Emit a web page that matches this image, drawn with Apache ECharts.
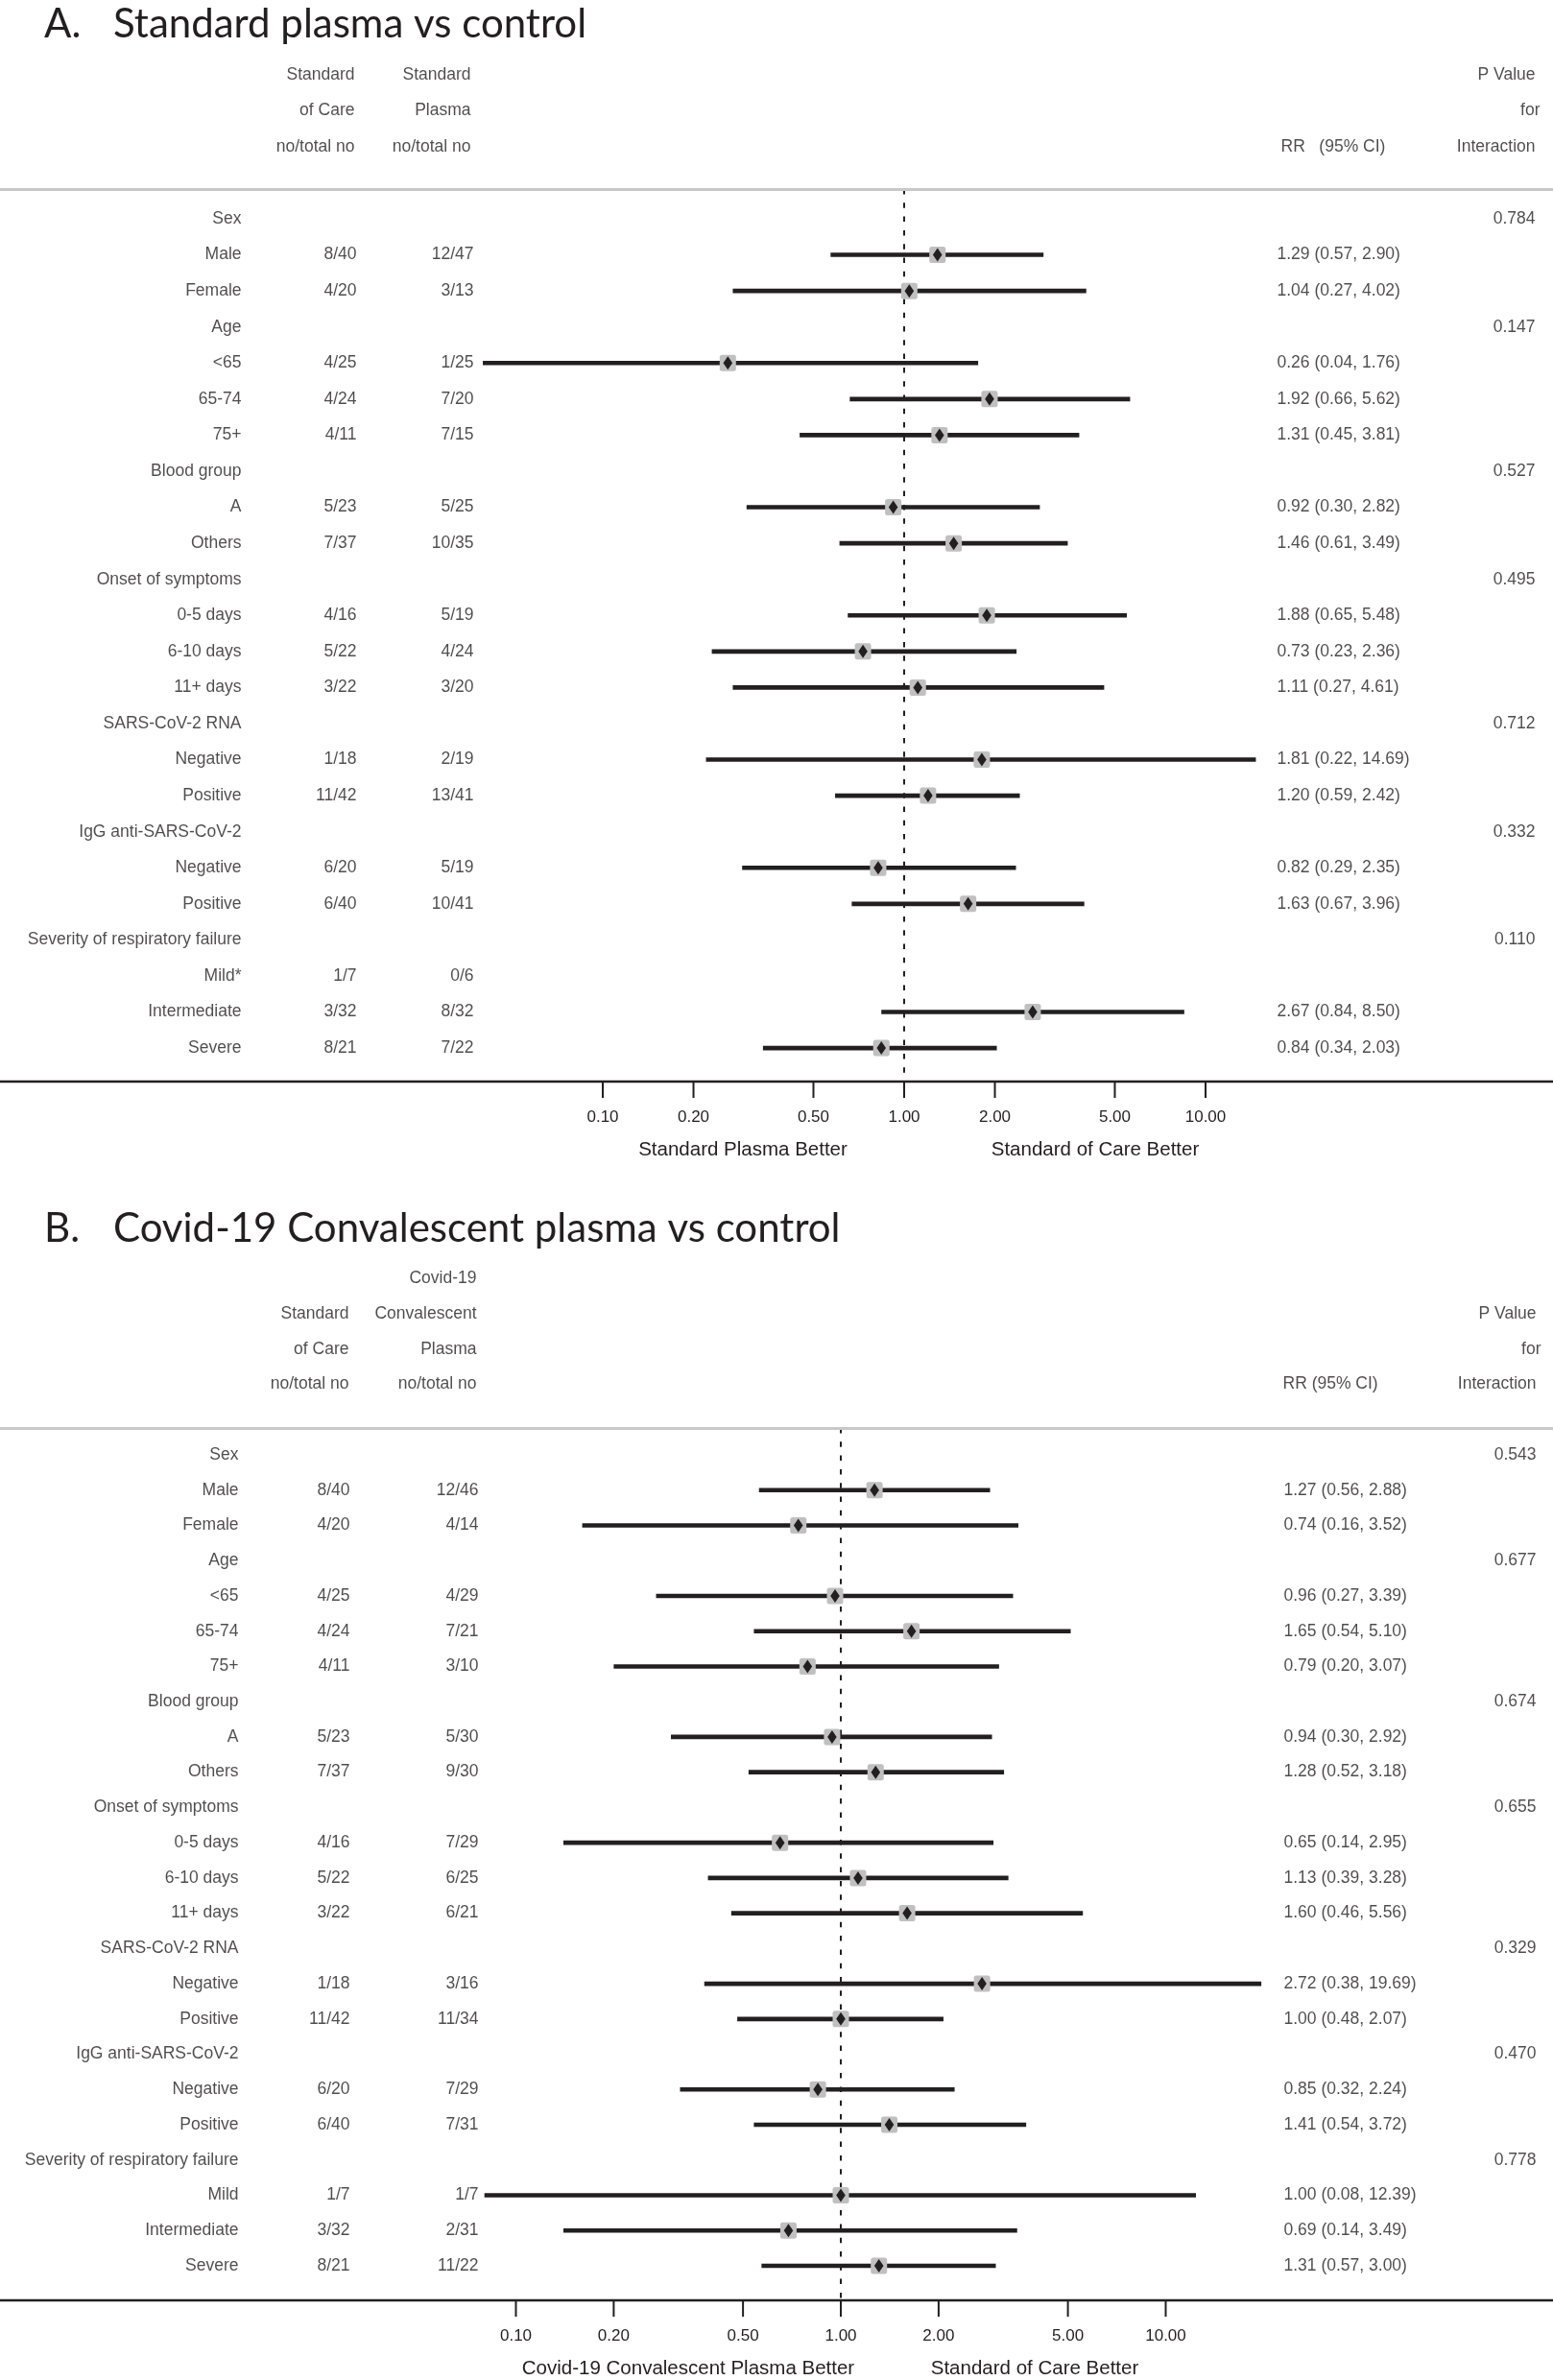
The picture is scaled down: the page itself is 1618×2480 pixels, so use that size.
<!DOCTYPE html>
<html><head><meta charset="utf-8">
<script src="https://cdn.jsdelivr.net/npm/echarts@6/dist/echarts.min.js"></script>
<style>html,body{margin:0;padding:0;background:#fff}#c{width:1618px;height:2480px}</style>
</head><body><div id="c"></div>
<script>
// ---------------- DATA ----------------
const subgroupsA = ['Sex','Male','Female','Age','<65','65-74','75+','Blood group','A','Others','Onset of symptoms','0-5 days','6-10 days','11+ days','SARS-CoV-2 RNA','Negative','Positive','IgG anti-SARS-CoV-2','Negative','Positive','Severity of respiratory failure','Mild*','Intermediate','Severe'];
const socA = ['','8/40','4/20','','4/25','4/24','4/11','','5/23','7/37','','4/16','5/22','3/22','','1/18','11/42','','6/20','6/40','','1/7','3/32','8/21'];
const plasmaA = ['','12/47','3/13','','1/25','7/20','7/15','','5/25','10/35','','5/19','4/24','3/20','','2/19','13/41','','5/19','10/41','','0/6','8/32','7/22'];
const rrA = [null,1.29,1.04,null,0.26,1.92,1.31,null,0.92,1.46,null,1.88,0.73,1.11,null,1.81,1.20,null,0.82,1.63,null,null,2.67,0.84];
const loA = [null,0.57,0.27,null,0.04,0.66,0.45,null,0.30,0.61,null,0.65,0.23,0.27,null,0.22,0.59,null,0.29,0.67,null,null,0.84,0.34];
const hiA = [null,2.90,4.02,null,1.76,5.62,3.81,null,2.82,3.49,null,5.48,2.36,4.61,null,14.69,2.42,null,2.35,3.96,null,null,8.50,2.03];
const pA = ['0.784','','','0.147','','','','0.527','','','0.495','','','','0.712','','','0.332','','','0.110','','',''];

const subgroupsB = ['Sex','Male','Female','Age','<65','65-74','75+','Blood group','A','Others','Onset of symptoms','0-5 days','6-10 days','11+ days','SARS-CoV-2 RNA','Negative','Positive','IgG anti-SARS-CoV-2','Negative','Positive','Severity of respiratory failure','Mild','Intermediate','Severe'];
const socB = ['','8/40','4/20','','4/25','4/24','4/11','','5/23','7/37','','4/16','5/22','3/22','','1/18','11/42','','6/20','6/40','','1/7','3/32','8/21'];
const plasmaB = ['','12/46','4/14','','4/29','7/21','3/10','','5/30','9/30','','7/29','6/25','6/21','','3/16','11/34','','7/29','7/31','','1/7','2/31','11/22'];
const rrB = [null,1.27,0.74,null,0.96,1.65,0.79,null,0.94,1.28,null,0.65,1.13,1.60,null,2.72,1.00,null,0.85,1.41,null,1.00,0.69,1.31];
const loB = [null,0.56,0.16,null,0.27,0.54,0.20,null,0.30,0.52,null,0.14,0.39,0.46,null,0.38,0.48,null,0.32,0.54,null,0.08,0.14,0.57];
const hiB = [null,2.88,3.52,null,3.39,5.10,3.07,null,2.92,3.18,null,2.95,3.28,5.56,null,19.69,2.07,null,2.24,3.72,null,12.39,3.49,3.00];
const pB = ['0.543','','','0.677','','','','0.674','','','0.655','','','','0.329','','','0.470','','','0.778','','',''];

const tickValues = [0.1, 0.2, 0.5, 1, 2, 5, 10];

const titleA = ['A.', 'Standard plasma vs control'];
const titleB = ['B.', 'Covid-19 Convalescent plasma vs control'];
const headA = { c1: ['Standard','of Care','no/total no'], c2: ['Standard','Plasma','no/total no'], rr: 'RR   (95% CI)', p: ['P Value','for','Interaction'] };
const headB = { c1: ['','Standard','of Care','no/total no'], c2: ['Covid-19','Convalescent','Plasma','no/total no'], rr: 'RR (95% CI)', p: ['P Value','for','Interaction'] };
const footA = ['Standard Plasma Better', 'Standard of Care Better'];
const footB = ['Covid-19 Convalescent Plasma Better', 'Standard of Care Better'];

// ---------------- LAYOUT ----------------
const W = 1618;
const TICK_LEN = 17;
const FONT = '"Liberation Sans", Arial, Helvetica, sans-serif';
const TFONT = 'Lato, "Open Sans", sans-serif';
const INK = '#231f20';
const panels = [
  { top: 50, axisY: 1127, firstY: 228, step: 37.57, grayY: 197, oneX: 942, decade: 314,
    sub: subgroupsA, c1: socA, c2: plasmaA, rr: rrA, lo: loA, hi: hiA, p: pA, head: headA,
    x: { lab: 252, c1: 372, c2: 494, rr: 1330, p: 1600, h1: 370, h2: 491, hrr: 1334, hp: 1600 },
    titleTop: 4, title: titleA, foot: footA, footY: 1198, footX: [774, 1141] },
  { top: 1305, axisY: 2397, firstY: 1516, step: 36.74, grayY: 1488, oneX: 876, decade: 338.5,
    sub: subgroupsB, c1: socB, c2: plasmaB, rr: rrB, lo: loB, hi: hiB, p: pB, head: headB,
    x: { lab: 249, c1: 365, c2: 499, rr: 1337, p: 1601, h1: 364, h2: 497, hrr: 1336, hp: 1601 },
    titleTop: 1259.5, title: titleB, foot: footB, footY: 2468, footX: [717, 1078] }
];

const grid = [], xAxis = [], yAxis = [], series = [], graphic = [];

function fmt(v){ return v.toFixed(2); }

// one custom series draws both the CI rows (kind 0) and the axis tick marks (kind 1)
function renderItem(params, api) {
  const kind = api.value(4);
  if (kind === 1) {
    const t = api.coord([api.value(0), api.value(3)]);
    return { type: 'rect', shape: { x: t[0] - 1, y: t[1], width: 2, height: TICK_LEN },
      style: { fill: INK } };
  }
  const lo = api.value(0), hi = api.value(1), rr = api.value(2), row = api.value(3);
  const a = api.coord([lo, row]), b = api.coord([hi, row]), c = api.coord([rr, row]);
  return { type: 'group', children: [
    { type: 'line', shape: { x1: a[0], y1: a[1], x2: b[0], y2: b[1] }, style: { stroke: INK, lineWidth: 4.6 } },
    { type: 'rect', shape: { x: c[0]-8.5, y: c[1]-8.5, width: 17, height: 17, r: 2.5 }, style: { fill: '#c0c0c0' } },
    { type: 'polygon', shape: { points: [[c[0], c[1]-7], [c[0]+4.8, c[1]], [c[0], c[1]+7], [c[0]-4.8, c[1]]] }, style: { fill: INK } }
  ]};
}

function textSeries(gi, pts, side) {
  return {
    type: 'scatter', xAxisIndex: gi*2+1, yAxisIndex: gi, silent: true, clip: false,
    symbolSize: 1, itemStyle: { color: 'transparent' },
    data: pts,
    label: { show: true, position: side === 'right' ? 'left' : 'right', distance: 0,
      formatter: p => p.data[2], color: INK, fontSize: 17.5, fontFamily: FONT },
    emphasis: { disabled: true }, animation: false
  };
}

panels.forEach((P, gi) => {
  const bottomY = P.axisY + TICK_LEN + 2;
  const height = bottomY - P.top;
  const yMin = (P.top - P.firstY) / P.step;
  const yMax = (bottomY - P.firstY) / P.step;
  const axisV = (P.axisY - P.firstY) / P.step;
  const grayV = (P.grayY - P.firstY) / P.step;
  const logMin = Math.pow(10, -P.oneX / P.decade);
  const logMax = Math.pow(10, (W - P.oneX) / P.decade);
  grid.push({ left: 0, top: P.top, width: W, height: height });
  xAxis.push({
    gridIndex: gi, type: 'log', logBase: 10, min: logMin, max: logMax, position: 'bottom',
    axisLine: { show: false, onZero: false },
    axisTick: { show: false },
    axisLabel: { show: true, customValues: tickValues, formatter: v => fmt(v), fontSize: 17, margin: 10, color: INK, fontFamily: FONT },
    splitLine: { show: false }, minorTick: { show: false }
  });
  xAxis.push({ gridIndex: gi, type: 'value', min: 0, max: W, show: false, axisLine: { onZero: false } });
  yAxis.push({ gridIndex: gi, type: 'value', inverse: true, min: yMin, max: yMax, show: false, axisLine: { onZero: false } });

  series.push({
    type: 'line', xAxisIndex: gi*2, yAxisIndex: gi, silent: true, symbol: 'none', animation: false,
    data: [[1, grayV], [1, axisV]],
    lineStyle: { color: INK, width: 2, type: [5.5, 8.8] },
    markLine: { silent: true, symbol: 'none', animation: false, label: { show: false },
      data: [
        { yAxis: grayV, lineStyle: { color: '#c8c8c8', width: 3.2, type: 'solid' } },
        { yAxis: axisV, lineStyle: { color: INK, width: 2.4, type: 'solid' } }
      ] }
  });
  const items = [];
  P.rr.forEach((v, i) => { if (v != null) items.push([P.lo[i], P.hi[i], v, i, 0]); });
  tickValues.forEach(v => items.push([v, v, v, axisV, 1]));
  series.push({
    type: 'custom', xAxisIndex: gi*2, yAxisIndex: gi, silent: true, animation: false,
    renderItem: renderItem, encode: { x: [0, 1, 2], y: 3 },
    dimensions: ['lo', 'hi', 'rr', 'row', 'kind'], data: items, z: 5
  });

  const right = [], left = [];
  P.sub.forEach((s, i) => {
    right.push([P.x.lab, i, s]);
    if (P.c1[i]) right.push([P.x.c1, i, P.c1[i]]);
    if (P.c2[i]) right.push([P.x.c2, i, P.c2[i]]);
    if (P.p[i]) right.push([P.x.p, i, P.p[i]]);
    if (P.rr[i] != null) left.push([P.x.rr, i, fmt(P.rr[i]) + ' (' + fmt(P.lo[i]) + ', ' + fmt(P.hi[i]) + ')']);
  });
  const n1 = P.head.c1.length;
  P.head.c1.forEach((t, k) => { if (t) right.push([P.x.h1, k - n1 - 1, t]); });
  const n2 = P.head.c2.length;
  P.head.c2.forEach((t, k) => { if (t) right.push([P.x.h2, k - n2 - 1, t]); });
  const np = P.head.p.length;
  P.head.p.forEach((t, k) => { right.push([P.x.hp + (t === 'for' ? 5 : 0), k - np - 1, t]); });
  left.push([P.x.hrr, -2, P.head.rr]);
  series.push(textSeries(gi, right, 'right'));
  series.push(textSeries(gi, left, 'left'));

  graphic.push({ type: 'text', left: 46, top: P.titleTop, silent: true,
    style: { text: P.title[0], font: '42px ' + TFONT, fill: INK } });
  graphic.push({ type: 'text', left: 118, top: P.titleTop, silent: true,
    style: { text: P.title[1], font: '42px ' + TFONT, fill: INK } });
  P.foot.forEach((t, k) => {
    graphic.push({ type: 'text', x: P.footX[k], y: P.footY, silent: true,
      style: { text: t, font: '20.5px ' + FONT, fill: INK, align: 'center', verticalAlign: 'middle' } });
  });
});

const chart = echarts.init(document.getElementById('c'), null, { renderer: 'canvas' });
chart.setOption({ animation: false, backgroundColor: '#fff', grid, xAxis, yAxis, series, graphic });
</script></body></html>
